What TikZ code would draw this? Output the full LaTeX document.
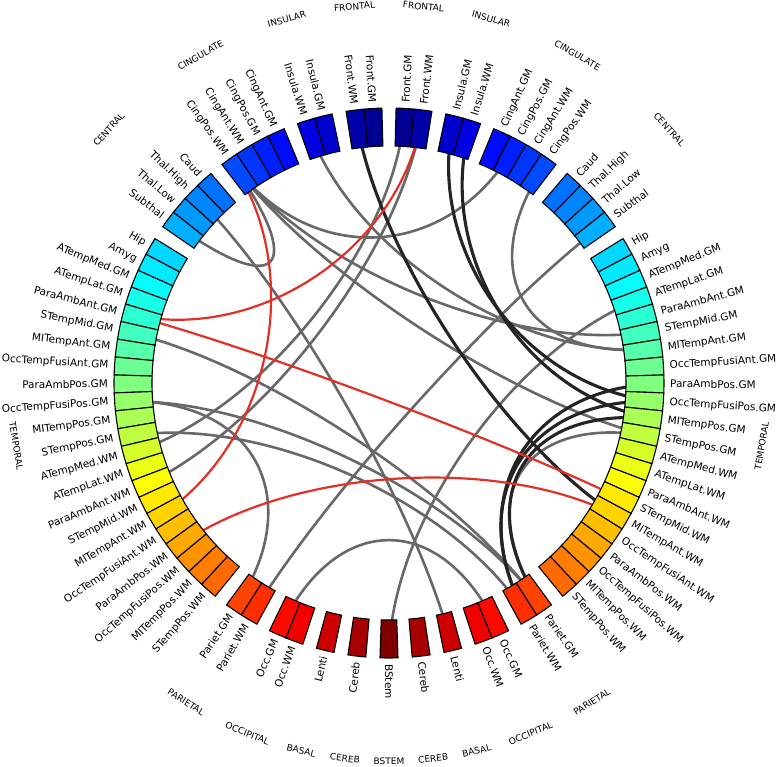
\documentclass[tikz,border=0pt]{standalone}
\usepackage{fontspec}
\setmainfont{DejaVu Sans}
\usetikzlibrary{calc}
\definecolor{linkgray}{RGB}{104,104,104}
\definecolor{linkdark}{RGB}{36,36,36}
\definecolor{linkred}{RGB}{226,48,38}
% angular position (deg, clockwise from top) of segment #1 on the right half
\newcommand{\segphi}[1]{(#1+0.5)*\sw+((#1>1)+(#1>3)+(#1>7)+(#1>11)+(#1>33)+(#1>35)+(#1>37)+(#1>38)+(#1>39)+0.5)*\gw}
% jet colour map, t in [0,1]
\newcommand{\jetcol}[1]{%
  \pgfmathsetmacro{\jr}{max(0,min(1,1.5-abs(4*#1-3)))}%
  \pgfmathsetmacro{\jg}{max(0,min(1,1.5-abs(4*#1-2)))}%
  \pgfmathsetmacro{\jb}{max(0,min(1,1.5-abs(4*#1-1)))}%
  \definecolor{segcol}{rgb}{\jr,\jg,\jb}}
\def\seglist{0/Front.GM,1/Front.WM,2/Insula.GM,3/Insula.WM,4/CingAnt.GM,5/CingPos.GM,6/CingAnt.WM,7/CingPos.WM,8/Caud,9/Thal.High,10/Thal.Low,11/Subthal,12/Hip,13/Amyg,14/ATempMed.GM,15/ATempLat.GM,16/ParaAmbAnt.GM,17/STempMid.GM,18/MITempAnt.GM,19/OccTempFusiAnt.GM,20/ParaAmbPos.GM,21/OccTempFusiPos.GM,22/MITempPos.GM,23/STempPos.GM,24/ATempMed.WM,25/ATempLat.WM,26/ParaAmbAnt.WM,27/STempMid.WM,28/MITempAnt.WM,29/OccTempFusiAnt.WM,30/ParaAmbPos.WM,31/OccTempFusiPos.WM,32/MITempPos.WM,33/STempPos.WM,34/Pariet.GM,35/Pariet.WM,36/Occ.GM,37/Occ.WM,38/Lenti,39/Cereb,40/BStem}
\tikzset{
  seglabel/.style={font=\fontsize{10.5}{12}\selectfont, inner sep=1pt},
  grouplabel/.style={font=\fontsize{9}{10}\selectfont, inner sep=0pt},
  segbox/.style={draw=black, line width=1.1pt, line join=miter},
  graylink/.style={draw=linkgray, line width=2.6pt},
  darklink/.style={draw=linkdark, line width=3.1pt},
  redlink/.style={draw=linkred, line width=2.2pt},
}

\begin{document}
\begin{tikzpicture}[x=1pt,y=1pt]
  \def\Rin{237pt}
  \def\Rout{275pt}
  \def\sw{3.75}
  \def\gw{2.9605}
  \useasboundingbox (-389,-384) rectangle (388,383);
  \coordinate (c) at (0,0);

  % chord end points on both halves
  \foreach \i/\nm in \seglist{
    \pgfmathsetmacro{\p}{\segphi{\i}}
    \coordinate (R\i) at ({90-\p}:\Rout);
    \coordinate (L\i) at ({90+\p}:\Rout);
  }

  % links
  \foreach \st/\a/\b in {
    graylink/L7/L11, graylink/L7/R5, graylink/L7/R17, graylink/L3/R18,
    graylink/R7/R18, graylink/L9/R38, graylink/R0/L24, graylink/R1/L26,
    graylink/R11/L35, graylink/L21/L34, graylink/R15/R40, graylink/L36/R36,
    graylink/L17/R34, graylink/L21/R34, graylink/L23/R35, graylink/L7/R23,
    graylink/R34/R23,
    darklink/L1/R28, darklink/R3/R22, darklink/R2/R21, darklink/R34/R22,
    darklink/R35/R21, darklink/R35/R20,
    redlink/L16/R1, redlink/L16/R27, redlink/L7/L28, redlink/L30/R28%
  }{
    \draw[\st] (\a) .. controls ($(c)!0.5!(\a)$) and ($(c)!0.5!(\b)$) .. (\b);
  }

  % ring segments and their labels
  \foreach \i/\nm in \seglist{
    \pgfmathsetmacro{\p}{\segphi{\i}}
    \pgfmathsetmacro{\t}{\p/180}
    \jetcol{\t}
    \pgfmathsetmacro{\ra}{90-\p+0.5*\sw}
    \pgfmathsetmacro{\rb}{90-\p-0.5*\sw}
    \pgfmathsetmacro{\la}{90+\p-0.5*\sw}
    \pgfmathsetmacro{\lb}{90+\p+0.5*\sw}
    \pgfmathsetmacro{\rt}{90-\p}
    \pgfmathsetmacro{\lt}{90+\p}
    \pgfmathsetmacro{\lr}{\lt-180}
    \draw[segbox, fill=segcol] (\ra:\Rin) arc[start angle=\ra, end angle=\rb, radius=\Rin]
      -- (\rb:\Rout) arc[start angle=\rb, end angle=\ra, radius=\Rout] -- cycle;
    \node[seglabel, rotate=\rt, anchor=west] (rl\i) at (\rt:280pt) {\nm};
    \ifnum\i<40
      \draw[segbox, fill=segcol] (\la:\Rin) arc[start angle=\la, end angle=\lb, radius=\Rin]
        -- (\lb:\Rout) arc[start angle=\lb, end angle=\la, radius=\Rout] -- cycle;
      \node[seglabel, rotate=\lr, anchor=east] (ll\i) at (\lt:280pt) {\nm};
    \fi
  }

  % lobe names
  \foreach \k/\gn/\gp in {1/FRONTAL/5.23, 2/INSULAR/15.69, 3/CINGULATE/29.90,
    4/CENTRAL/47.86, 5/TEMPORAL/99.57, 6/PARIETAL/147.53, 7/OCCIPITAL/157.99,
    8/BASAL/166.58, 9/CEREB/173.29}{
    \pgfmathsetmacro{\rt}{90-\gp}
    \pgfmathsetmacro{\lt}{90+\gp}
    \pgfmathsetmacro{\rr}{\gp<90 ? \rt-90 : \rt+90}
    \pgfmathsetmacro{\lr}{\gp<90 ? \lt-90 : \lt+90}
    \node[grouplabel, rotate=\rr] (rg\k) at (\rt:378pt) {\gn};
    \node[grouplabel, rotate=\lr] (lg\k) at (\lt:378pt) {\gn};
  }
  \node[grouplabel] (bstem) at (-90:378pt) {BSTEM};
\end{tikzpicture}
\end{document}
